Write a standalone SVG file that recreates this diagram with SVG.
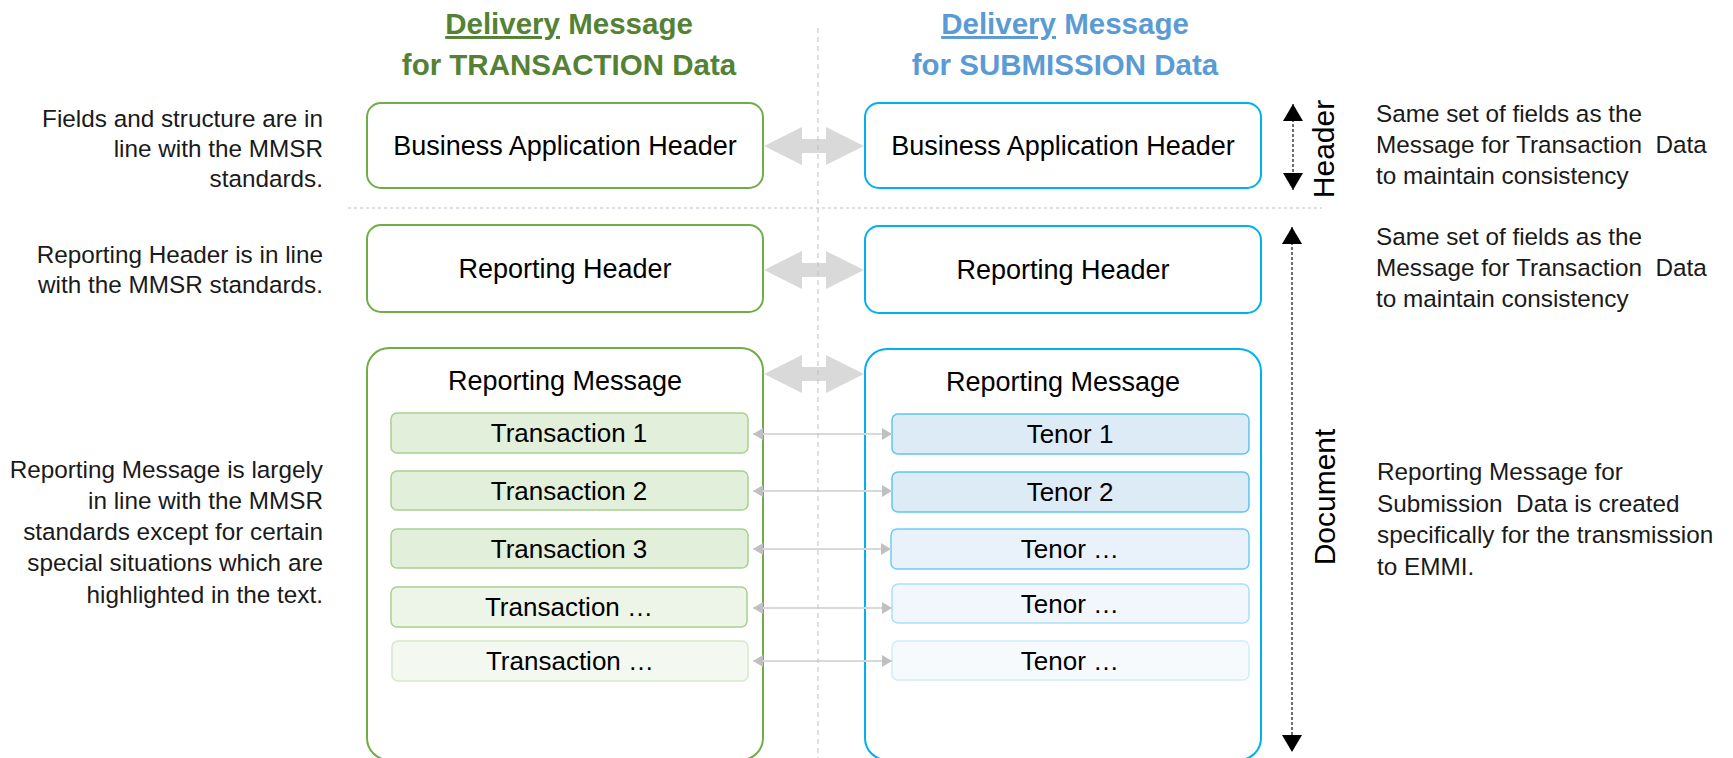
<svg xmlns="http://www.w3.org/2000/svg" width="1733" height="758" viewBox="0 0 1733 758">
<style>
text{font-family:"Liberation Sans",Arial,sans-serif;}
.title{font-size:29.5px;font-weight:bold;text-anchor:middle;}
.tg{fill:#548235;}
.tb{fill:#5b9bd5;}
.box{font-size:27px;fill:#000;text-anchor:middle;}
.item{font-size:26px;fill:#000;text-anchor:middle;}
.note{font-size:24.3px;fill:#1a1a1a;}
.noteR{text-anchor:end;}
.gbox{fill:#fff;stroke:#70ad47;stroke-width:2;}
.bbox{fill:#fff;stroke:#00b0f0;stroke-width:2;}
.big{fill:#d9d9d9;}
.small{stroke:#d9d9d9;stroke-width:2;fill:none;marker-start:url(#sh);marker-end:url(#sh);}
.guide{stroke:#bfbfbf;stroke-width:1;fill:none;}
.dim{stroke:#404040;stroke-width:1.5;stroke-dasharray:3 2;fill:none;marker-start:url(#bk);marker-end:url(#bk);}
.side{font-size:30px;fill:#000;text-anchor:middle;}
</style>
<defs>
<marker id="sh" viewBox="0 0 10 12" refX="10" refY="6" markerWidth="10" markerHeight="12" markerUnits="userSpaceOnUse" orient="auto-start-reverse">
<path d="M0,0 L10,6 L0,12 z" fill="#c0c0c0"/>
</marker>
<marker id="bk" viewBox="0 0 18 20" refX="17" refY="10" markerWidth="18" markerHeight="20" markerUnits="userSpaceOnUse" orient="auto-start-reverse">
<path d="M0,0 L17,10 L0,20 z" fill="#000"/>
</marker>
</defs>
<rect width="1733" height="758" fill="#fff"/>

<g id="title-transaction">
<text class="title tg" x="569" y="34"><tspan text-decoration="underline">Delivery</tspan> Message</text>
<text class="title tg" x="569" y="75">for TRANSACTION Data</text>
</g>
<g id="title-submission">
<text class="title tb" x="1065" y="34"><tspan text-decoration="underline">Delivery</tspan> Message</text>
<text class="title tb" x="1065" y="75">for SUBMISSION Data</text>
</g>

<g id="note-bah-left">
<text class="note noteR" x="323" y="127">Fields and structure are in</text>
<text class="note noteR" x="323" y="157">line with the MMSR</text>
<text class="note noteR" x="323" y="187">standards.</text>
</g>
<g id="note-rh-left">
<text class="note noteR" x="323" y="263">Reporting Header is in line</text>
<text class="note noteR" x="323" y="293">with the MMSR standards.</text>
</g>
<g id="note-rm-left">
<text class="note noteR" x="323" y="478">Reporting Message is largely</text>
<text class="note noteR" x="323" y="509">in line with the MMSR</text>
<text class="note noteR" x="323" y="540">standards except for certain</text>
<text class="note noteR" x="323" y="571">special situations which are</text>
<text class="note noteR" x="323" y="603">highlighted in the text.</text>
</g>
<g id="note-bah-right">
<text class="note" x="1376" y="122">Same set of fields as the</text>
<text class="note" x="1376" y="153">Message for Transaction&#160; Data</text>
<text class="note" x="1376" y="184">to maintain consistency</text>
</g>
<g id="note-rh-right">
<text class="note" x="1376" y="245">Same set of fields as the</text>
<text class="note" x="1376" y="276">Message for Transaction&#160; Data</text>
<text class="note" x="1376" y="307">to maintain consistency</text>
</g>
<g id="note-rm-right">
<text class="note" x="1377" y="480">Reporting Message for</text>
<text class="note" x="1377" y="512">Submission&#160; Data is created</text>
<text class="note" x="1377" y="543">specifically for the transmission</text>
<text class="note" x="1377" y="575">to EMMI.</text>
</g>

<g id="t-bah">
<rect class="gbox" x="367" y="103" width="396" height="85" rx="14"/>
<text class="box" x="565" y="155">Business Application Header</text>
</g>
<g id="t-rh">
<rect class="gbox" x="367" y="225" width="396" height="87" rx="14"/>
<text class="box" x="565" y="278">Reporting Header</text>
</g>
<g id="t-rm">
<rect class="gbox" x="367" y="348" width="396" height="412" rx="22"/>
<text class="box" x="565" y="390">Reporting Message</text>
</g>
<g id="t-1">
<rect x="391" y="413" width="357" height="40" rx="6" fill="#e2efda" stroke="#a9d18e" stroke-width="1.5"/>
<text class="item" x="569" y="442">Transaction 1</text>
</g>
<g id="t-2">
<rect x="391" y="471" width="357" height="39" rx="6" fill="#e2efda" stroke="#a9d18e" stroke-width="1.5"/>
<text class="item" x="569" y="500">Transaction 2</text>
</g>
<g id="t-3">
<rect x="391" y="529" width="357" height="39" rx="6" fill="#e2efda" stroke="#a9d18e" stroke-width="1.5"/>
<text class="item" x="569" y="558">Transaction 3</text>
</g>
<g id="t-4">
<rect x="391" y="587" width="356" height="40" rx="6" fill="#edf5e8" stroke="#a9d18e" stroke-width="1.5"/>
<text class="item" x="569" y="616">Transaction …</text>
</g>
<g id="t-5">
<rect x="392" y="641" width="356" height="40" rx="6" fill="#f3f8f0" stroke="#d6e9cb" stroke-width="1.5"/>
<text class="item" x="570" y="670">Transaction …</text>
</g>

<g id="s-bah">
<rect class="bbox" x="865" y="103" width="396" height="85" rx="14"/>
<text class="box" x="1063" y="155">Business Application Header</text>
</g>
<g id="s-rh">
<rect class="bbox" x="865" y="226" width="396" height="87" rx="14"/>
<text class="box" x="1063" y="279">Reporting Header</text>
</g>
<g id="s-rm">
<rect class="bbox" x="865" y="349" width="396" height="411" rx="22"/>
<text class="box" x="1063" y="391">Reporting Message</text>
</g>
<g id="s-1">
<rect x="892" y="414" width="357" height="40" rx="6" fill="#ddebf7" stroke="#5bc6f2" stroke-width="1.5"/>
<text class="item" x="1070" y="443">Tenor 1</text>
</g>
<g id="s-2">
<rect x="892" y="472" width="357" height="40" rx="6" fill="#ddebf7" stroke="#5bc6f2" stroke-width="1.5"/>
<text class="item" x="1070" y="501">Tenor 2</text>
</g>
<g id="s-3">
<rect x="891" y="529" width="358" height="40" rx="6" fill="#e9f2fa" stroke="#6ccdf5" stroke-width="1.5"/>
<text class="item" x="1070" y="558">Tenor …</text>
</g>
<g id="s-4">
<rect x="892" y="584" width="357" height="39" rx="6" fill="#f1f7fc" stroke="#a8e0fa" stroke-width="1.5"/>
<text class="item" x="1070" y="613">Tenor …</text>
</g>
<g id="s-5">
<rect x="892" y="641" width="357" height="39" rx="6" fill="#f6fafd" stroke="#cdeefc" stroke-width="1.5"/>
<text class="item" x="1070" y="670">Tenor …</text>
</g>

<g id="connectors">
<polygon class="big" points="764,146 802,127 802,139 826,139 826,127 864,146 826,165 826,153 802,153 802,165"/>
<polygon class="big" points="764,270 802,251 802,263 826,263 826,251 864,270 826,289 826,277 802,277 802,289"/>
<polygon class="big" points="764,374 802,355 802,367 826,367 826,355 864,374 826,393 826,381 802,381 802,393"/>
<line class="small" x1="753" y1="434" x2="892" y2="434"/>
<line class="small" x1="753" y1="491" x2="892" y2="491"/>
<line class="small" x1="753" y1="549" x2="891" y2="549"/>
<line class="small" x1="753" y1="608" x2="892" y2="608"/>
<line class="small" x1="753" y1="661" x2="892" y2="661"/>
<line class="guide" x1="818" y1="28" x2="818" y2="758" stroke-dasharray="5 4"/>
<line class="guide" x1="348" y1="208" x2="1322" y2="208" stroke-dasharray="3 3"/>
<line class="dim" x1="1293" y1="104" x2="1293" y2="190"/>
<line class="dim" x1="1292" y1="227" x2="1292" y2="752"/>
</g>

<g id="label-header">
<text class="side" transform="translate(1334,149) rotate(-90)">Header</text>
</g>
<g id="label-document">
<text class="side" transform="translate(1335,497) rotate(-90)">Document</text>
</g>
</svg>
